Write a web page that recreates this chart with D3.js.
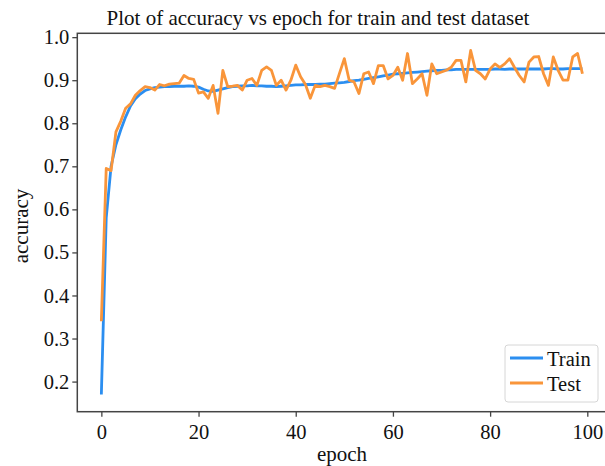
<!DOCTYPE html>
<html>
<head>
<meta charset="utf-8">
<script src="https://cdn.jsdelivr.net/npm/d3@7"></script>
<style>
  body { margin: 0; background: #fff; }
  svg { display: block; overflow: hidden; }
  text { font-family: "Liberation Serif", "Times New Roman", serif; fill: #111; }
</style>
</head>
<body>
<svg id="drawing_region"></svg>
<script>
// accuracy per epoch
const train_acc = [
  0.17, 0.58, 0.70, 0.75, 0.785, 0.815, 0.84, 0.857, 0.868, 0.876,
  0.880, 0.883, 0.884, 0.885, 0.885, 0.886, 0.886, 0.886, 0.887, 0.886,
  0.884, 0.879, 0.875, 0.874, 0.877, 0.880, 0.883, 0.885, 0.886, 0.887,
  0.887, 0.888, 0.887, 0.887, 0.886, 0.886, 0.885, 0.886, 0.887, 0.888,
  0.889, 0.889, 0.890, 0.890, 0.890, 0.891, 0.891, 0.892, 0.893, 0.894,
  0.895, 0.897, 0.899, 0.900, 0.902, 0.904, 0.906, 0.908, 0.910, 0.912,
  0.914, 0.915, 0.916, 0.917, 0.918, 0.919, 0.920, 0.921, 0.922, 0.923,
  0.923, 0.924, 0.924, 0.925, 0.925, 0.925, 0.925, 0.925, 0.925, 0.925,
  0.925, 0.926, 0.926, 0.925, 0.926, 0.926, 0.926, 0.926, 0.926, 0.926,
  0.926, 0.926, 0.927, 0.927, 0.926, 0.926, 0.927, 0.927, 0.927, 0.927
];
const test_acc = [
  0.34, 0.695, 0.69, 0.78, 0.805, 0.835, 0.845, 0.865, 0.876, 0.885,
  0.883, 0.877, 0.890, 0.887, 0.891, 0.892, 0.893, 0.911, 0.904, 0.902,
  0.870, 0.873, 0.858, 0.888, 0.823, 0.923, 0.885, 0.886, 0.888, 0.877,
  0.900, 0.904, 0.888, 0.923, 0.931, 0.923, 0.888, 0.900, 0.877, 0.900,
  0.935, 0.908, 0.890, 0.858, 0.888, 0.885, 0.888, 0.885, 0.881, 0.916,
  0.950, 0.900, 0.896, 0.869, 0.915, 0.919, 0.892, 0.934, 0.934, 0.903,
  0.911, 0.930, 0.900, 0.962, 0.892, 0.903, 0.915, 0.865, 0.938, 0.915,
  0.919, 0.923, 0.930, 0.946, 0.946, 0.896, 0.969, 0.923, 0.915, 0.903,
  0.926, 0.938, 0.930, 0.938, 0.950, 0.930, 0.911, 0.896, 0.942, 0.954,
  0.955, 0.915, 0.888, 0.954, 0.923, 0.900, 0.900, 0.954, 0.962, 0.915
];
const series_names = ["Train", "Test"];
const series_colors = ["#2b8ef0", "#f9953a"];
const x_ticks = [0, 20, 40, 60, 80, 100];
const y_ticks = [0.2, 0.3, 0.4, 0.5, 0.6, 0.7, 0.8, 0.9, 1.0];
const title = "Plot of accuracy vs epoch for train and test dataset";

const config = {
    width: 605,
    height: 466,
    margin: { top: 33.3, right: -1.5, bottom: 54.3, left: 77.3 }
};

const svg = d3.select('#drawing_region')
    .attr('width', config.width)
    .attr('height', config.height);

const inner_width = config.width - config.margin.left - config.margin.right;
const inner_height = config.height - config.margin.top - config.margin.bottom;

const chart = svg.append('g')
    .attr('transform', `translate(${config.margin.left}, ${config.margin.top})`);

const series = [train_acc, test_acc];

// matplotlib style 5% margins around the data
const n = train_acc.length;
const xpad = (n - 1) * 0.05;
const all_vals = train_acc.concat(test_acc);
const ymin = d3.min(all_vals), ymax = d3.max(all_vals);
const ypad = (ymax - ymin) * 0.05;

const xscale = d3.scaleLinear()
    .domain([-xpad, n - 1 + xpad])
    .range([0, inner_width]);
const yscale = d3.scaleLinear()
    .domain([ymin - ypad, ymax + ypad])
    .range([inner_height, 0]);

const xaxis = d3.axisBottom(xscale)
    .tickValues(x_ticks)
    .tickFormat(d3.format('d'))
    .tickSize(5)
    .tickPadding(8)
    .tickSizeOuter(0);
const yaxis = d3.axisLeft(yscale)
    .tickValues(y_ticks)
    .tickFormat(d3.format('.1f'))
    .tickSize(5)
    .tickPadding(3)
    .tickSizeOuter(0);

const xaxis_group = chart.append('g')
    .attr('transform', `translate(0, ${inner_height})`)
    .call(xaxis);
const yaxis_group = chart.append('g')
    .call(yaxis);

[xaxis_group, yaxis_group].forEach(g => {
    g.attr('font-family', '"Liberation Serif", serif');
    g.select('.domain').remove();
    g.selectAll('.tick line').attr('stroke', '#444').attr('stroke-width', 1.3);
    g.selectAll('.tick text')
        .attr('font-family', '"Liberation Serif", serif')
        .style('font-family', '"Liberation Serif", serif')
        .style('font-size', '20.5px')
        .attr('fill', '#111');
});

// lines
const line = d3.line()
    .x((d, i) => xscale(i))
    .y(d => yscale(d));

chart.selectAll('path.series').data(series).enter()
    .append('path')
    .attr('class', 'series')
    .attr('fill', 'none')
    .attr('stroke', (d, i) => series_colors[i])
    .attr('stroke-width', 2.8)
    .attr('stroke-linejoin', 'round')
    .attr('d', line);

// frame
chart.append('rect')
    .attr('x', 0)
    .attr('y', 0)
    .attr('width', inner_width)
    .attr('height', inner_height)
    .attr('fill', 'none')
    .attr('stroke', '#444')
    .attr('stroke-width', 1.5);

// title and labels
svg.append('text')
    .attr('x', 318)
    .attr('y', 25)
    .attr('text-anchor', 'middle')
    .style('font-size', '21px')
    .text(title);

svg.append('text')
    .attr('x', 342)
    .attr('y', 461)
    .attr('text-anchor', 'middle')
    .style('font-size', '21px')
    .text('epoch');

svg.append('text')
    .attr('transform', 'translate(28, 226) rotate(-90)')
    .attr('text-anchor', 'middle')
    .style('font-size', '21px')
    .text('accuracy');

// legend
const legend = svg.append('g')
    .attr('transform', 'translate(505, 345)');
legend.append('rect')
    .attr('width', 93)
    .attr('height', 57)
    .attr('rx', 3)
    .attr('fill', '#fff')
    .attr('fill-opacity', 0.8)
    .attr('stroke', '#d6d6d6');
const items = legend.selectAll('g.item').data(series_names).enter()
    .append('g')
    .attr('class', 'item')
    .attr('transform', (d, i) => `translate(0, ${13 + i * 25})`);
items.append('line')
    .attr('x1', 5).attr('x2', 38)
    .attr('stroke', (d, i) => series_colors[i])
    .attr('stroke-width', 2.8);
items.append('text')
    .attr('x', 42)
    .attr('y', 7.5)
    .style('font-size', '20.5px')
    .text(d => d);
</script>
</body>
</html>
